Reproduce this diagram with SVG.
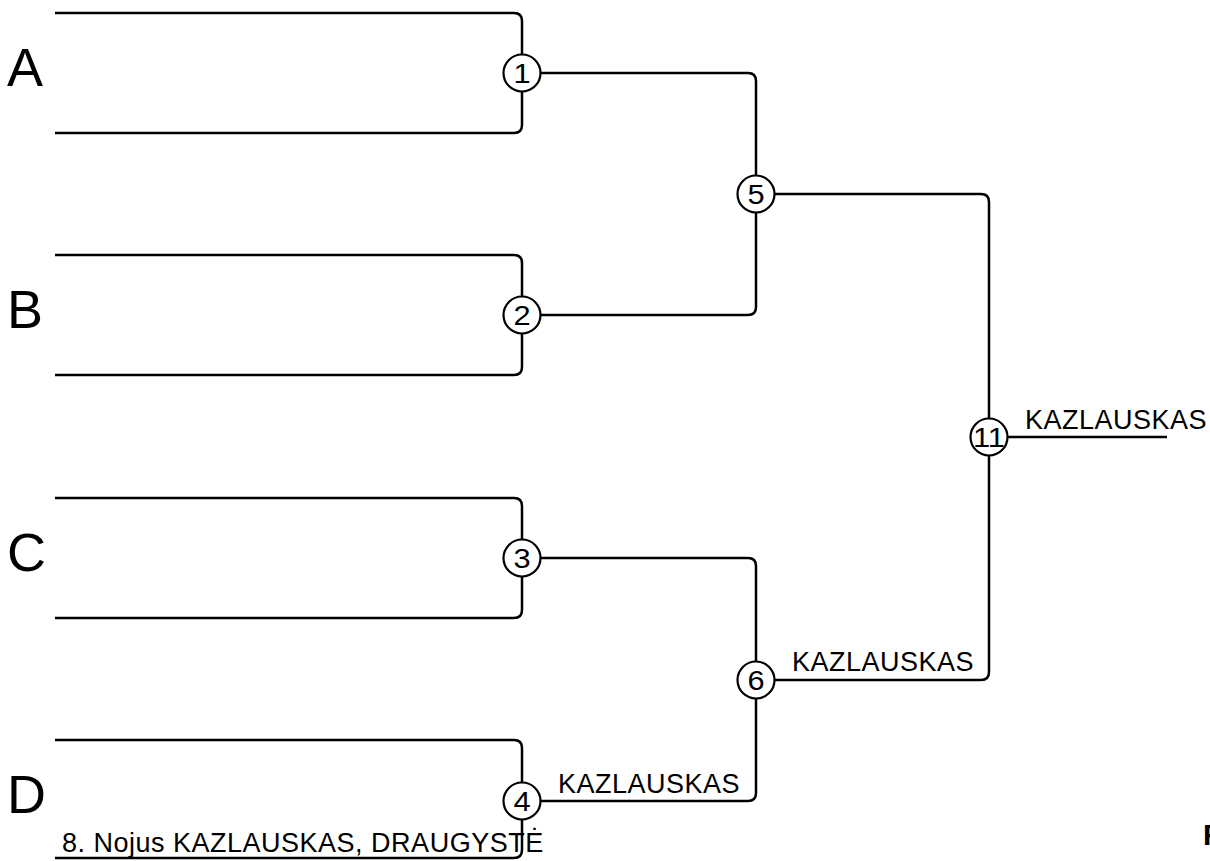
<svg xmlns="http://www.w3.org/2000/svg" width="1210" height="861" viewBox="0 0 1210 861">
<style>
.ln{fill:none;stroke:#000;stroke-width:2.5}
.nd circle{fill:#fff;stroke:#000;stroke-width:2.2}
.num{font-family:"Liberation Sans",Arial,sans-serif;font-size:28px;text-anchor:middle;fill:#000}
.big{font-family:"Liberation Sans",Arial,sans-serif;font-size:54px;fill:#000}
.lbl{font-family:"Liberation Sans",Arial,sans-serif;font-size:27px;letter-spacing:0.5px;fill:#000}
</style>
<rect width="1210" height="861" fill="#fff"/>
<g id="connectors">
<path class="ln" d="M55,13 H514 Q522,13 522,21 V55 M522,91 V125 Q522,133 514,133 H55"/>
<path class="ln" d="M55,255 H514 Q522,255 522,263 V297 M522,333 V367 Q522,375 514,375 H55"/>
<path class="ln" d="M55,498 H514 Q522,498 522,506 V540 M522,576 V610 Q522,618 514,618 H55"/>
<path class="ln" d="M55,740 H514 Q522,740 522,748 V783 M522,819 V850 Q522,858 514,858 H55"/>
<path class="ln" d="M540,73 H748 Q756,73 756,81 V176 M756,212 V307 Q756,315 748,315 H540"/>
<path class="ln" d="M540,558 H748 Q756,558 756,566 V662 M756,698 V793 Q756,801 748,801 H540"/>
<path class="ln" d="M774,194 H981 Q989,194 989,202 V419 M989,455 V672 Q989,680 981,680 H774"/>
<path class="ln" d="M1007,437 H1167"/>
</g>
<g id="entrants">
<text class="big" x="7" y="86">A</text>
<text class="big" x="7" y="328">B</text>
<text class="big" x="7" y="571">C</text>
<text class="big" x="7" y="813">D</text>
<text class="lbl" x="62" y="852">8. Nojus KAZLAUSKAS, DRAUGYSTĖ</text>
</g>
<g id="n1" class="nd"><circle cx="522" cy="73" r="18.5"/><text class="num" transform="translate(522,83) scale(1.1,1)">1</text></g>
<g id="n2" class="nd"><circle cx="522" cy="315" r="18.5"/><text class="num" transform="translate(522,325) scale(1.1,1)">2</text></g>
<g id="n3" class="nd"><circle cx="522" cy="558" r="18.5"/><text class="num" transform="translate(522,568) scale(1.1,1)">3</text></g>
<g id="n4" class="nd"><circle cx="522" cy="801" r="18.5"/><text class="num" transform="translate(522,811) scale(1.1,1)">4</text></g>
<g id="n5" class="nd"><circle cx="756" cy="194" r="18.5"/><text class="num" transform="translate(756,204) scale(1.1,1)">5</text></g>
<g id="n6" class="nd"><circle cx="756" cy="680" r="18.5"/><text class="num" transform="translate(756,690) scale(1.1,1)">6</text></g>
<g id="n11" class="nd"><circle cx="989" cy="437" r="18.5"/><text class="num" transform="translate(989,447) scale(1.1,1)">11</text></g>
<g id="labels">
<text class="lbl" x="558" y="793">KAZLAUSKAS</text>
<text class="lbl" x="792" y="671">KAZLAUSKAS</text>
<text class="lbl" x="1025" y="429">KAZLAUSKAS</text>
<text x="1203" y="845" font-family="Liberation Sans, Arial, sans-serif" font-size="30" font-weight="bold">F</text>
</g>
</svg>
